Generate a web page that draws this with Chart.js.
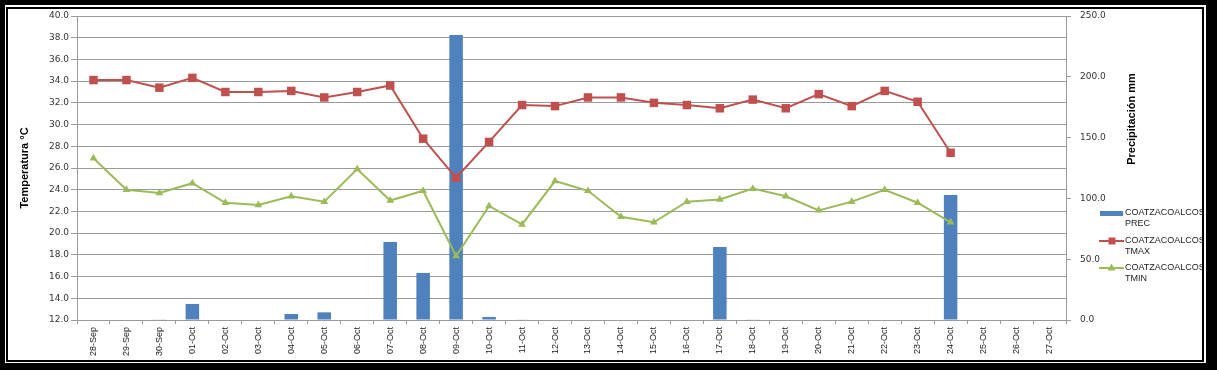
<!DOCTYPE html>
<html>
<head>
<meta charset="utf-8">
<script src="https://cdn.jsdelivr.net/npm/chart.js@4/dist/chart.umd.min.js"></script>
<style>
html,body{margin:0;padding:0;background:#000;}
#wrap{position:absolute;left:0;top:0;width:1217px;height:370px;}
</style>
</head>
<body>
<div id="wrap"><canvas id="c" width="1217" height="370"></canvas></div>
<script>
const categories = ['28-Sep','29-Sep','30-Sep','01-Oct','02-Oct','03-Oct','04-Oct','05-Oct','06-Oct','07-Oct','08-Oct','09-Oct','10-Oct','11-Oct','12-Oct','13-Oct','14-Oct','15-Oct','16-Oct','17-Oct','18-Oct','19-Oct','20-Oct','21-Oct','22-Oct','23-Oct','24-Oct','25-Oct','26-Oct','27-Oct'];
const precValues = [0,0,0.3,13.2,0,0,4.9,6.3,0,64.1,38.7,234.4,2.5,0.5,0,0,0,0,0,60.0,0.5,0,0,0,0,0,102.8,0,0,0];
const tmaxValues = [34.1,34.1,33.4,34.3,33.0,33.0,33.1,32.5,33.0,33.6,28.7,25.1,28.4,31.8,31.7,32.5,32.5,32.0,31.8,31.5,32.3,31.5,32.8,31.7,33.1,32.1,27.4,null,null,null];
const tminValues = [26.9,24.0,23.7,24.6,22.8,22.6,23.4,22.9,25.9,23.0,23.9,17.9,22.5,20.8,24.8,23.9,21.5,21.0,22.9,23.1,24.1,23.4,22.1,22.9,24.0,22.8,21.0,null,null,null];
const seriesNames = [['COATZACOALCOS','PREC'],['COATZACOALCOS','TMAX'],['COATZACOALCOS','TMIN']];
const leftTitle = 'Temperatura °C';
const rightTitle = 'Precipitación mm';

const BLUE = '#4F81BD', RED = '#C0504D', GREEN = '#9BBB59';
const GRID = '#9a9a9a';
const TICKFONT = {family:'DejaVu Sans', size:9};

const decor = {
  id:'decor',
  beforeDraw(chart){
    const ctx = chart.ctx;
    ctx.save();
    ctx.fillStyle = '#fff';
    ctx.fillRect(0,0,chart.width,chart.height);
    ctx.restore();
  },
  afterDraw(chart){
    const ctx = chart.ctx;
    const ca = chart.chartArea;
    ctx.save();
    // right axis title (reads bottom-to-top)
    ctx.font = 'bold 11px "Liberation Sans"';
    ctx.fillStyle = '#000';
    ctx.textAlign = 'center';
    ctx.textBaseline = 'middle';
    ctx.translate(1132, 119);
    ctx.rotate(-Math.PI/2);
    ctx.fillText(rightTitle, 0, 0);
    ctx.restore();

    // legend
    ctx.save();
    ctx.font = '9px "Liberation Sans"';
    ctx.fillStyle = '#222';
    ctx.textAlign = 'left';
    ctx.textBaseline = 'middle';
    const ds = chart.data.datasets;
    const ys = [213, 241, 268];
    ds.forEach((d, i) => {
      const y = ys[i];
      if (d.type === 'bar' || i === 0) {
        ctx.fillStyle = d.backgroundColor;
        ctx.fillRect(1100, y - 2, 23, 5);
      } else {
        ctx.strokeStyle = d.borderColor;
        ctx.lineWidth = 2;
        ctx.beginPath(); ctx.moveTo(1099, y); ctx.lineTo(1124, y); ctx.stroke();
        ctx.fillStyle = d.pointBackgroundColor;
        if (d.pointStyle === 'rect') {
          ctx.fillRect(1108.5, y - 3.5, 7, 7);
        } else {
          ctx.beginPath();
          ctx.moveTo(1111.5, y - 4.5);
          ctx.lineTo(1115.5, y + 2.5);
          ctx.lineTo(1107.5, y + 2.5);
          ctx.closePath(); ctx.fill();
        }
      }
      ctx.fillStyle = '#222';
      const lines = d.label;
      ctx.fillText(lines[0], 1125, y);
      ctx.fillText(lines[1], 1125, y + 11);
    });
    ctx.restore();

    // frame
    ctx.save();
    const W = chart.width, H = chart.height;
    ctx.fillStyle = '#fff';
    ctx.fillRect(0,0,W,9); ctx.fillRect(0,0,8,H); ctx.fillRect(1202,0,W-1202,H); ctx.fillRect(0,360,W,H-360);
    ctx.fillStyle = '#000';
    ctx.fillRect(0,0,W,5); ctx.fillRect(0,0,5,H); ctx.fillRect(1206,0,W-1206,H); ctx.fillRect(0,363,W,H-363);
    ctx.fillRect(6,7,1198-0,2); // top inner
    ctx.fillRect(6,7,2,355);   // left inner
    ctx.fillRect(1202,7,2,355); // right inner
    ctx.fillRect(6,360,1198,2); // bottom inner
    ctx.restore();
  }
};

new Chart(document.getElementById('c'), {
  type:'bar',
  data:{
    labels: categories,
    datasets:[
      {type:'bar', label: seriesNames[0], data: precValues, yAxisID:'y1', backgroundColor: BLUE, borderWidth:0, barPercentage:0.41, categoryPercentage:1.0, order:3},
      {type:'line', label: seriesNames[1], data: tmaxValues, yAxisID:'y', borderColor: RED, backgroundColor: RED, pointBackgroundColor: RED, pointBorderColor: RED, borderWidth:2, pointStyle:'rect', pointRadius:6, pointBorderWidth:0, tension:0, spanGaps:false, order:1},
      {type:'line', label: seriesNames[2], data: tminValues, yAxisID:'y', borderColor: GREEN, backgroundColor: GREEN, pointBackgroundColor: GREEN, pointBorderColor: GREEN, borderWidth:2, pointStyle:'triangle', pointRadius:4.5, pointBorderWidth:0, tension:0, spanGaps:false, order:2}
    ]
  },
  options:{
    responsive:false,
    animation:false,
    events:[],
    layout:{padding:{left:14, right:101, top:16, bottom:0}},
    plugins:{legend:{display:false}, tooltip:{enabled:false}},
    scales:{
      x:{
        offset:true,
        grid:{display:true, drawOnChartArea:false, offset:true, tickLength:4, color:GRID},
        border:{color:GRID},
        ticks:{autoSkip:false, maxRotation:90, minRotation:90, padding:3, color:'#222', font:{family:'Liberation Sans', size:9}},
        afterFit(s){ s.height = 50; }
      },
      y:{
        position:'left', min:12, max:40,
        ticks:{stepSize:2, padding:2, color:'#333', font:TICKFONT, callback:v=>Number(v).toFixed(1)},
        grid:{color:GRID, tickLength:6},
        border:{color:GRID},
        title:{display:true, text:leftTitle, color:'#000', font:{family:'Liberation Sans', size:11, weight:'bold'}, padding:{top:4,bottom:4}},
        afterFit(s){ s.width = 63; }
      },
      y1:{
        position:'right', min:0, max:250,
        ticks:{stepSize:50, padding:9, color:'#333', font:TICKFONT, callback:v=>Number(v).toFixed(1)},
        grid:{drawOnChartArea:false, color:GRID, tickLength:5},
        border:{color:GRID},
        afterFit(s){ s.width = 50; }
      }
    }
  },
  plugins:[decor]
});
</script>
</body>
</html>
